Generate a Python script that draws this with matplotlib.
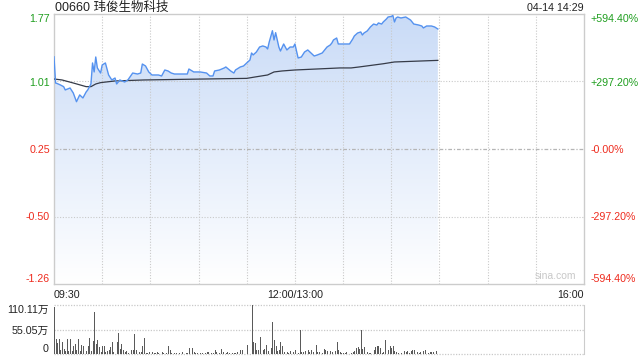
import numpy as np
import matplotlib
matplotlib.use("Agg")
import matplotlib.pyplot as plt
from matplotlib.colors import LinearSegmentedColormap

plt.rcParams['font.family'] = ['Liberation Sans', 'Noto Sans CJK SC', 'DejaVu Sans']

# 分钟序号：09:30 起算，午休压缩，150 = 12:00/13:00，330 = 16:00
price_t = [0, 1, 2, 4, 6, 7, 10, 12, 14, 16, 18, 20, 21, 23, 24, 25, 26, 27, 29, 30,
           32, 34, 36, 38, 39, 41, 44, 46, 49, 52, 54, 55, 57, 59, 61, 65, 67, 69, 71, 73,
           75, 83, 84, 87, 91, 95, 97, 99, 100, 103, 106, 107, 110, 112, 113, 116, 118, 120, 122, 123,
           124, 126, 128, 130, 132, 133, 134, 136, 137, 138, 140, 141, 143, 145, 147, 149, 150, 152, 154, 156,
           158, 160, 162, 164, 167, 170, 172, 173, 174, 176, 177, 184, 186, 187, 189, 191, 192, 193, 195, 197,
           199, 201, 202, 204, 205, 207, 208, 210, 211, 212, 213, 214, 216, 219, 222, 224, 227, 229, 230, 232,
           235, 237, 239]
price_v = [1.290, 0.996, 0.990, 0.974, 0.955, 0.918, 0.940, 0.884, 0.786, 0.862, 0.828, 0.895, 0.918, 0.985, 1.221, 1.120, 1.288, 1.165, 1.108, 1.198,
           1.221, 1.086, 1.030, 1.052, 0.985, 1.030, 1.007, 1.030, 1.108, 1.097, 1.108, 1.209, 1.187, 1.120, 1.086, 1.086, 1.075, 1.142, 1.131, 1.108,
           1.097, 1.097, 1.153, 1.120, 1.120, 1.108, 1.075, 1.075, 1.131, 1.142, 1.165, 1.176, 1.131, 1.108, 1.142, 1.176, 1.187, 1.221, 1.254, 1.333,
           1.311, 1.344, 1.400, 1.412, 1.400, 1.378, 1.456, 1.583, 1.479, 1.561, 1.400, 1.355, 1.434, 1.367, 1.400, 1.400, 1.434, 1.277, 1.288, 1.344,
           1.367, 1.333, 1.299, 1.311, 1.333, 1.400, 1.423, 1.445, 1.479, 1.501, 1.434, 1.434, 1.490, 1.524, 1.557, 1.569, 1.535, 1.557, 1.580, 1.625,
           1.658, 1.647, 1.670, 1.658, 1.681, 1.715, 1.737, 1.743, 1.754, 1.681, 1.726, 1.737, 1.726, 1.737, 1.703, 1.658, 1.647, 1.636, 1.614, 1.636,
           1.636, 1.625, 1.602]

# 均价线
avg_t = [0, 5, 12, 20, 23, 26, 29, 38, 56, 80, 120, 125, 133, 137, 142, 150, 178, 185, 190, 205, 212, 239]
avg_v = [1.041, 1.030, 0.996, 0.955, 0.955, 0.985, 1.000, 1.019, 1.030, 1.037, 1.048, 1.063, 1.086, 1.120, 1.131, 1.142, 1.165, 1.165, 1.176, 1.212, 1.232, 1.250]

# 成交量（万股）
vol_t = [0, 1, 2, 3, 4, 5, 6, 7, 8, 9, 10, 11, 12, 13, 14, 15, 16, 17, 18, 19,
         20, 21, 22, 23, 24, 25, 26, 27, 28, 29, 30, 31, 32, 33, 34, 35, 36, 37, 39, 40,
         41, 42, 43, 44, 45, 46, 48, 49, 50, 51, 52, 53, 54, 55, 56, 57, 58, 59, 61, 62,
         63, 64, 65, 67, 68, 70, 71, 72, 73, 75, 76, 78, 80, 82, 83, 84, 86, 87, 88, 89,
         91, 92, 94, 95, 96, 98, 99, 100, 101, 103, 104, 105, 107, 108, 109, 111, 112, 113, 114, 116,
         117, 118, 120, 123, 124, 125, 126, 127, 128, 130, 131, 132, 133, 135, 136, 137, 138, 139, 140, 141,
         142, 143, 145, 146, 147, 149, 150, 151, 152, 153, 154, 155, 156, 158, 159, 160, 161, 163, 164, 165,
         167, 168, 169, 170, 172, 173, 175, 176, 177, 178, 179, 180, 181, 182, 185, 186, 187, 188, 189, 190,
         191, 192, 193, 195, 196, 197, 199, 200, 201, 202, 203, 204, 205, 206, 208, 209, 210, 211, 212, 213,
         214, 216, 218, 219, 220, 221, 222, 223, 224, 226, 227, 228, 230, 231, 233, 234, 235, 236, 238]
vol_v = [105, 34, 25, 34, 8, 26, 12, 6, 34, 6, 34, 6, 17, 23, 10, 34, 6, 21, 17, 8,
         7, 19, 36, 6, 30, 95, 22, 32, 15, 4, 19, 17, 4, 6, 10, 16, 26, 4, 26, 48,
         11, 23, 10, 4, 6, 2, 8, 10, 45, 10, 11, 4, 4, 17, 37, 3, 3, 4, 5, 3,
         3, 5, 3, 5, 3, 3, 17, 8, 3, 3, 3, 3, 4, 3, 3, 13, 13, 4, 3, 3,
         3, 3, 3, 4, 5, 3, 3, 8, 4, 3, 11, 4, 3, 4, 3, 3, 3, 3, 4, 10,
         8, 6, 21, 110.11, 27, 24, 8, 10, 38, 8, 11, 21, 6, 13, 71, 32, 18, 6, 10, 28,
         17, 4, 4, 2, 6, 4, 10, 8, 2, 53, 4, 4, 6, 10, 4, 10, 4, 21, 4, 4,
         2, 11, 10, 7, 6, 4, 6, 27, 10, 4, 2, 2, 2, 4, 2, 4, 6, 13, 16, 11,
         54, 11, 16, 4, 2, 2, 8, 16, 19, 19, 13, 2, 4, 32, 8, 17, 13, 18, 7, 4,
         2, 2, 6, 4, 6, 2, 7, 10, 10, 4, 2, 4, 6, 8, 2, 4, 4, 4, 6]

prev_close = 0.255
step = 0.7578
price_ticks = [prev_close + 2 * step, prev_close + step, prev_close, prev_close - step, prev_close - 2 * step]
left_labels = ["1.77", "1.01", "0.25", "-0.50", "-1.26"]
right_labels = ["+594.40%", "+297.20%", "-0.00%", "-297.20%", "-594.40%"]
vol_max = 110.11
vol_labels = ["0", "55.05万", "110.11万"]

GREEN = "#1f9e1f"
RED = "#ee2b1e"
GRID = "#c9c9c9"
FS = 7.7

fig = plt.figure(figsize=(6.4, 3.6), dpi=100)
ax = fig.add_axes([54 / 640, 1 - 284 / 360, 530 / 640, 270 / 360])
axv = fig.add_axes([54 / 640, 1 - 354 / 360, 530 / 640, 49 / 360])

y_top = price_ticks[0]
y_bot = price_ticks[-1]

# 渐变填充
cmap = LinearSegmentedColormap.from_list("fill", ["#ffffff", "#c9dbf7"])
grad = np.linspace(0, 1, 256).reshape(-1, 1)
im = ax.imshow(grad, extent=[0, 330, y_bot, y_top], origin="lower", aspect="auto",
               cmap=cmap, zorder=1)
poly = ax.fill_between(price_t, price_v, y_bot, facecolor="none", edgecolor="none")
im.set_clip_path(poly.get_paths()[0], transform=ax.transData)

# 网格
for t in range(30, 330, 30):
    ax.axvline(t, color=GRID, lw=0.8, ls=(0, (1, 1.5)), zorder=2)
for i, v in enumerate(price_ticks[1:-1]):
    if i == 1:
        ax.axhline(v, color="#b5b5b5", lw=0.9, ls=(0, (3, 1.5, 1, 1.5)), zorder=2)
    else:
        ax.axhline(v, color=GRID, lw=0.8, ls=(0, (1, 1.5)), zorder=2)

ax.plot(price_t, price_v, color="#5592ef", lw=1.0, zorder=4)
ax.plot(avg_t, avg_v, color="#363b48", lw=0.9, zorder=3)

ax.set_xlim(0, 330)
ax.set_ylim(y_bot, y_top)
for s in ax.spines.values():
    s.set_color("#cccccc")
    s.set_linewidth(1.0)

ax.set_yticks(price_ticks)
ax.set_yticklabels(left_labels)
ax.tick_params(axis="y", length=0, pad=3, labelsize=FS)
for lab, c in zip(ax.get_yticklabels(), [GREEN, GREEN, RED, RED, RED]):
    lab.set_color(c)
ylabs = ax.get_yticklabels()
ylabs[0].set_va("top")
ylabs[-1].set_va("bottom")

axr = ax.twinx()
axr.set_ylim(y_bot, y_top)
axr.set_yticks(price_ticks)
axr.set_yticklabels(right_labels)
axr.tick_params(axis="y", length=0, pad=5, labelsize=FS)
for lab, c in zip(axr.get_yticklabels(), [GREEN, GREEN, RED, RED, RED]):
    lab.set_color(c)
rlabs = axr.get_yticklabels()
rlabs[0].set_va("top")
rlabs[-1].set_va("bottom")
for s in axr.spines.values():
    s.set_visible(False)

ax.set_xticks([0, 150, 330])
ax.set_xticklabels(["09:30", "12:00/13:00", "16:00"])
ax.tick_params(axis="x", length=0, pad=4, labelsize=FS, labelcolor="#222222")
xlabs = ax.get_xticklabels()
xlabs[0].set_ha("left")
xlabs[-1].set_ha("right")

fig.text(55 / 640, 1 - 8 / 360, "00660 玮俊生物科技", fontsize=9,
         color="#222222", ha="left", va="center")
fig.text(584 / 640, 1 - 8 / 360, "04-14 14:29", fontsize=FS,
         color="#222222", ha="right", va="center")
ax.text(0.985, 0.012, "sina.com", transform=ax.transAxes, fontsize=7.5,
        color="#c8c8c8", ha="right", va="bottom")

# 成交量
axv.bar(vol_t, vol_v, width=0.6, align="edge", color="#5a5a5a", zorder=3)
axv.set_xlim(0, 330)
axv.set_ylim(0, vol_max)
for v in [0, vol_max / 2, vol_max]:
    axv.axhline(v, color=GRID, lw=0.9, ls=(0, (1, 1.2)), zorder=1, clip_on=False)
for k in ["top", "bottom", "left"]:
    axv.spines[k].set_visible(False)
axv.spines["right"].set_color("#cccccc")
axv.set_xticks([])
axv.set_yticks([0, vol_max / 2, vol_max])
axv.set_yticklabels(vol_labels)
axv.tick_params(axis="y", length=0, pad=4, labelsize=FS, labelcolor="#222222")
vlabs = axv.get_yticklabels()
vlabs[0].set_va("bottom")
vlabs[-1].set_va("top")

fig.savefig("out.png", dpi=100)
